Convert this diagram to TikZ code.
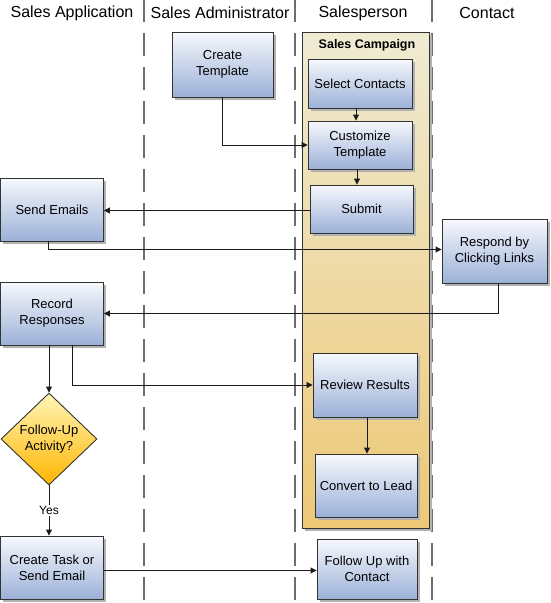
\documentclass[tikz,border=0pt]{standalone}
\usepackage{fontspec}
\setmainfont{Liberation Sans}
\usetikzlibrary{shapes.geometric,arrows.meta,shadows}
\definecolor{boxtop}{HTML}{F6F8FC}
\definecolor{boxbot}{HTML}{9CB1D8}
\definecolor{camptop}{HTML}{EFEBD3}
\definecolor{campbot}{HTML}{EDC876}
\definecolor{diatop}{HTML}{FFF6B8}
\definecolor{diabot}{HTML}{FFB500}
\definecolor{lanegray}{HTML}{6E6E6E}
\definecolor{linecol}{HTML}{1A1A1A}
\begin{document}
\begin{tikzpicture}[x=1pt,y=-1pt,
  task/.style={draw=black!80, line width=0.9pt, top color=boxtop, bottom color=boxbot,
    align=center, inner sep=0pt, font=\fontsize{13}{16}\selectfont,
    drop shadow={shadow xshift=2.5pt, shadow yshift=-2.5pt, fill=black!30, opacity=1}},
  decision/.style={diamond, draw=black!80, line width=0.9pt, top color=diatop, bottom color=diabot,
    align=center, inner sep=0pt, font=\fontsize{13}{16}\selectfont},
  campaign/.style={draw=black!80, line width=0.9pt, top color=camptop, bottom color=campbot,
    inner sep=0pt,
    drop shadow={shadow xshift=2.5pt, shadow yshift=-2.5pt, fill=black!30, opacity=1}},
  lanehead/.style={font=\fontsize{16}{18}\selectfont, inner sep=0pt},
  lane/.style={draw=lanegray, line width=2.8pt, dash pattern=on 23pt off 11pt},
  flow/.style={draw=linecol, line width=0.9pt, -{Triangle[length=6pt,width=6pt]}},
  lbl/.style={font=\fontsize{12}{14}\selectfont, fill=white, inner sep=1.5pt}
]
\useasboundingbox (0,0) rectangle (550,603);
% lanes
\draw[lane] (144,-1) -- (144,605);
\draw[lane] (295,-1) -- (295,605);
\draw[lane] (432,-1) -- (432,605);
% headers
\node[lanehead] (h1) at (72,13) {Sales Application};
\node[lanehead] (h2) at (220,13) {Sales Administrator};
\node[lanehead] (h3) at (363,13) {Salesperson};
\node[lanehead] (h4) at (487,13) {Contact};
% container
\node[campaign, minimum width=127pt, minimum height=496pt] (camp) at (365.5,280) {};
\node[font=\bfseries\fontsize{12.5}{14}\selectfont, inner sep=0pt] (camplbl) at (367,45) {Sales Campaign};
% tasks
\node[task, minimum width=101pt, minimum height=65pt] (ct) at (222.5,64.5) {Create\\Template};
\node[task, minimum width=104pt, minimum height=49pt] (sc) at (360,83.5) {Select Contacts};
\node[task, minimum width=104pt, minimum height=48pt] (cu) at (360,145) {Customize\\Template};
\node[task, minimum width=103pt, minimum height=48pt] (sub) at (361.5,209) {Submit};
\node[task, minimum width=103pt, minimum height=63pt] (se) at (52,209.5) {Send Emails};
\node[task, minimum width=105pt, minimum height=64pt] (resp) at (494.5,251) {Respond by\\Clicking Links};
\node[task, minimum width=103pt, minimum height=63pt] (rec) at (52,313.5) {Record\\Responses};
\node[decision, minimum width=96pt, minimum height=92pt] (dia) at (49,439) {Follow-Up\\Activity?};
\node[task, minimum width=103pt, minimum height=63pt] (ctask) at (52,567.5) {Create Task or\\Send Email};
\node[task, minimum width=104pt, minimum height=64pt] (rev) at (365,385) {Review Results};
\node[task, minimum width=102pt, minimum height=63pt] (conv) at (366,485.5) {Convert to Lead};
\node[task, minimum width=100pt, minimum height=60pt] (fu) at (367,569) {Follow Up with\\Contact};
% connectors
\draw[flow] (ct.south) |- (cu.west);
\draw[flow] ([xshift=-4pt]sc.south) -- ([xshift=-4pt]cu.north);
\draw[flow] ([xshift=-3pt]cu.south) -- ([xshift=-4.5pt]sub.north);
\draw[flow] ([yshift=-1.5pt]sub.west) -- ([yshift=-1pt]se.east);
\draw[flow] ([xshift=-4pt]se.south) |- ([yshift=1.5pt]resp.west);
\draw[flow] ([xshift=3.5pt]resp.south) |- (rec.east);
\draw[flow] ([xshift=-3pt]rec.south) -- (dia.north);
\draw[flow] ([xshift=20pt]rec.south) |- (rev.west);
\draw[flow] ([xshift=2pt]rev.south) -- ([xshift=1pt]conv.north);
\draw[flow] (dia.south) -- node[lbl, pos=0.5] {Yes} (dia.south |- ctask.north);
\draw[flow] ([yshift=-3pt]ctask.east) -- ([yshift=-1.5pt]fu.west);
\end{tikzpicture}
\end{document}
